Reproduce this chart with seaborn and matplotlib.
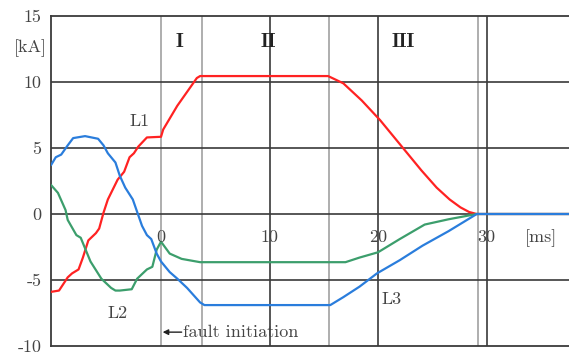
import numpy as np
import pandas as pd
import matplotlib
matplotlib.use("Agg")
import matplotlib.pyplot as plt
import seaborn as sns

# phase currents [kA] vs time [ms]
t_L1 = [-10.14, -9.4, -8.6, -8.2, -7.6, -7.2, -6.7, -6.0, -5.7, -5.3, -4.9, -4.0,
        -3.4, -2.9, -2.5, -2.1, -1.3, 0.0, 0.2, 1.5, 2.7, 3.3, 3.6, 15.4, 16.8,
        18.5, 20.2, 22.3, 24.0, 25.4, 26.6, 27.6, 28.4, 29.1, 37.6]
i_L1 = [-5.9, -5.8, -4.8, -4.5, -4.2, -3.3, -2.0, -1.45, -1.1, 0.1, 1.1, 2.6,
        3.2, 4.3, 4.6, 5.1, 5.8, 5.85, 6.4, 8.2, 9.6, 10.3, 10.45, 10.45, 9.9,
        8.6, 7.1, 5.0, 3.3, 2.0, 1.1, 0.5, 0.15, 0.0, 0.0]

t_L2 = [-10.14, -9.5, -8.8, -8.6, -7.8, -7.4, -6.5, -5.5, -4.6, -4.2, -3.8, -2.7,
        -2.2, -1.3, -0.8, -0.4, 0.0, 0.8, 1.9, 3.6, 17.0, 18.3, 20.0, 22.0,
        24.3, 26.5, 29.1, 37.6]
i_L2 = [2.2, 1.6, 0.3, -0.45, -1.6, -1.8, -3.6, -4.9, -5.6, -5.8, -5.8, -5.7,
        -4.9, -4.2, -4.0, -2.7, -2.1, -3.0, -3.4, -3.65, -3.65, -3.3, -2.9, -1.9,
        -0.8, -0.4, 0.0, 0.0]

t_L3 = [-10.14, -9.7, -9.2, -8.6, -8.1, -7.0, -5.8, -5.3, -4.9, -4.2, -3.8, -3.3,
        -2.6, -1.75, -1.3, -0.9, -0.4, 0.0, 0.8, 1.5, 2.4, 3.6, 4.0, 15.6, 16.8,
        18.3, 19.9, 22.0, 24.1, 26.5, 29.1, 37.6]
i_L3 = [3.7, 4.3, 4.5, 5.2, 5.75, 5.9, 5.7, 5.2, 4.6, 3.9, 2.9, 2.0,
        1.1, -0.9, -1.6, -1.9, -3.0, -3.6, -4.4, -4.9, -5.6, -6.7, -6.9, -6.9,
        -6.3, -5.5, -4.5, -3.5, -2.4, -1.3, 0.0, 0.0]

phase_colors = {"L1": "#ff2222", "L2": "#3c9e6c", "L3": "#2a7ddc"}

xtick_vals = [0, 10, 20, 30]
ytick_vals = [-10, -5, 0, 5, 10, 15]
major_x = [10, 20, 30]
minor_x = [0, 3.8, 15.5, 29.2]
zones = [("I", 1.66), ("II", 9.9), ("III", 22.3)]
phase_labels = [("L1", -2.0, 7.05), ("L2", -4.05, -7.5), ("L3", 21.2, -6.45)]

df = pd.concat([
    pd.DataFrame({"t": t_L1, "i": i_L1, "phase": "L1"}),
    pd.DataFrame({"t": t_L2, "i": i_L2, "phase": "L2"}),
    pd.DataFrame({"t": t_L3, "i": i_L3, "phase": "L3"}),
], ignore_index=True)

sns.set_style("white")
plt.rcParams["font.family"] = ["cmr10", "DejaVu Serif"]

fig = plt.figure(figsize=(5.69, 3.56), dpi=100)
ax = fig.add_axes([51 / 569, 10 / 356, 518 / 569, 330 / 356])

dark = "#3a3a3a"
light = "#a8a8a8"
for x in minor_x:
    ax.axvline(x, color=light, lw=1.3, zorder=1)
for x in major_x:
    ax.axvline(x, color=dark, lw=1.2, zorder=1)
for y in [-5, 0, 5, 10]:
    ax.axhline(y, color=dark, lw=1.2, zorder=1)

sns.lineplot(data=df, x="t", y="i", hue="phase", palette=phase_colors,
             estimator=None, sort=False, legend=False, lw=1.6, ax=ax, zorder=3)

ax.set_xlim(-10.14, 37.6)
ax.set_ylim(-10, 15)
ax.set_xlabel("")
ax.set_ylabel("")
ax.set_xticks([])
ax.set_yticks(ytick_vals)
ax.set_yticklabels([str(v) for v in ytick_vals], fontsize=13, color="#444444")
ax.tick_params(axis="y", length=0, pad=7)

for s in ["top", "bottom", "left"]:
    ax.spines[s].set_color(dark)
    ax.spines[s].set_linewidth(1.3)
ax.spines["right"].set_visible(False)

tc = "#444444"
for v in xtick_vals:
    ax.text(v, -1.75, str(v), ha="center", va="center", fontsize=13, color=tc, zorder=4)
ax.text(35.0, -1.85, "[ms]", ha="center", va="center", fontsize=13, color=tc)
ax.text(-0.04, 12.6, "[kA]", transform=ax.get_yaxis_transform(),
        ha="center", va="center", fontsize=13, color=tc)

for name, x in zones:
    ax.text(x, 13.0, name, ha="center", va="center", fontsize=14,
            family="cmb10", color="#222222")

for name, x, y in phase_labels:
    ax.text(x, y, name, ha="center", va="center", fontsize=13, color=tc)

ax.annotate("", xy=(0.15, -8.95), xytext=(1.9, -8.95),
            arrowprops=dict(arrowstyle="-|>", color="#222222", lw=1.0,
                            mutation_scale=8, shrinkA=0, shrinkB=0))
ax.text(2.0, -8.95, "fault initiation", ha="left", va="center", fontsize=13, color=tc)

fig.savefig("out.png", dpi=100)
